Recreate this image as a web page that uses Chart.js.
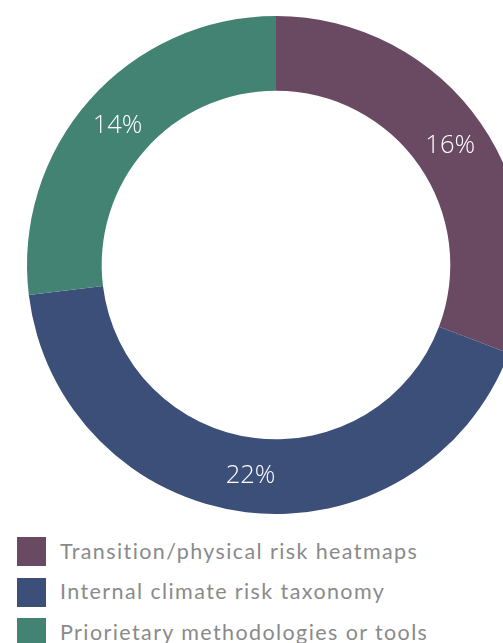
<!DOCTYPE html>
<html>
<head>
<meta charset="utf-8">
<script src="https://cdn.jsdelivr.net/npm/chart.js@4.4.1/dist/chart.umd.min.js"></script>
<style>
  html, body { margin: 0; padding: 0; background: #fff; width: 503px; height: 643px; overflow: hidden; }
  #wrap { position: absolute; left: 0; top: 16px; width: 552px; height: 498px; }
  #legend { position: absolute; left: 17px; top: 537px; font-family: Lato, "Open Sans", sans-serif; font-size: 21.5px; letter-spacing: 1.4px; color: #8a8a8a; }
  .item { position: relative; height: 40.5px; }
  .sw { position: absolute; left: 0; top: 0; width: 29px; height: 29px; }
  .tx { position: absolute; left: 43px; top: 14.5px; transform: translateY(-50%); white-space: nowrap; line-height: 1; }
</style>
</head>
<body>
<div id="wrap"><canvas id="c"></canvas></div>
<div id="legend"></div>
<script>
const categories = ["Transition/physical risk heatmaps", "Internal climate risk taxonomy", "Priorietary methodologies or tools"];
const values = [16, 22, 14];
const valueLabels = ["16%", "22%", "14%"];
const colors = ["#6a4a62", "#3c4f78", "#438373"];

const labelPlugin = {
  id: 'sliceLabels',
  afterDatasetsDraw(chart) {
    const ctx = chart.ctx;
    const meta = chart.getDatasetMeta(0);
    ctx.save();
    ctx.fillStyle = '#ffffff';
    ctx.font = '300 25.5px "Open Sans", sans-serif';
    ctx.textAlign = 'center';
    ctx.textBaseline = 'middle';
    meta.data.forEach((arc, i) => {
      const p = arc.tooltipPosition();
      ctx.fillText(valueLabels[i], p.x, p.y + 1);
    });
    ctx.restore();
  }
};

new Chart(document.getElementById('c'), {
  type: 'doughnut',
  data: {
    labels: categories,
    datasets: [{ data: values, backgroundColor: colors, borderWidth: 0, hoverOffset: 0 }]
  },
  options: {
    responsive: true,
    maintainAspectRatio: false,
    animation: false,
    cutout: '70%',
    layout: { padding: 0 },
    plugins: { legend: { display: false }, tooltip: { enabled: false } }
  },
  plugins: [labelPlugin]
});

const lg = document.getElementById('legend');
categories.forEach((name, i) => {
  const d = document.createElement('div');
  d.className = 'item';
  d.innerHTML = '<span class="sw" style="background:' + colors[i] + '"></span><span class="tx"></span>';
  d.querySelector('.tx').textContent = name;
  lg.appendChild(d);
});
</script>
</body>
</html>
